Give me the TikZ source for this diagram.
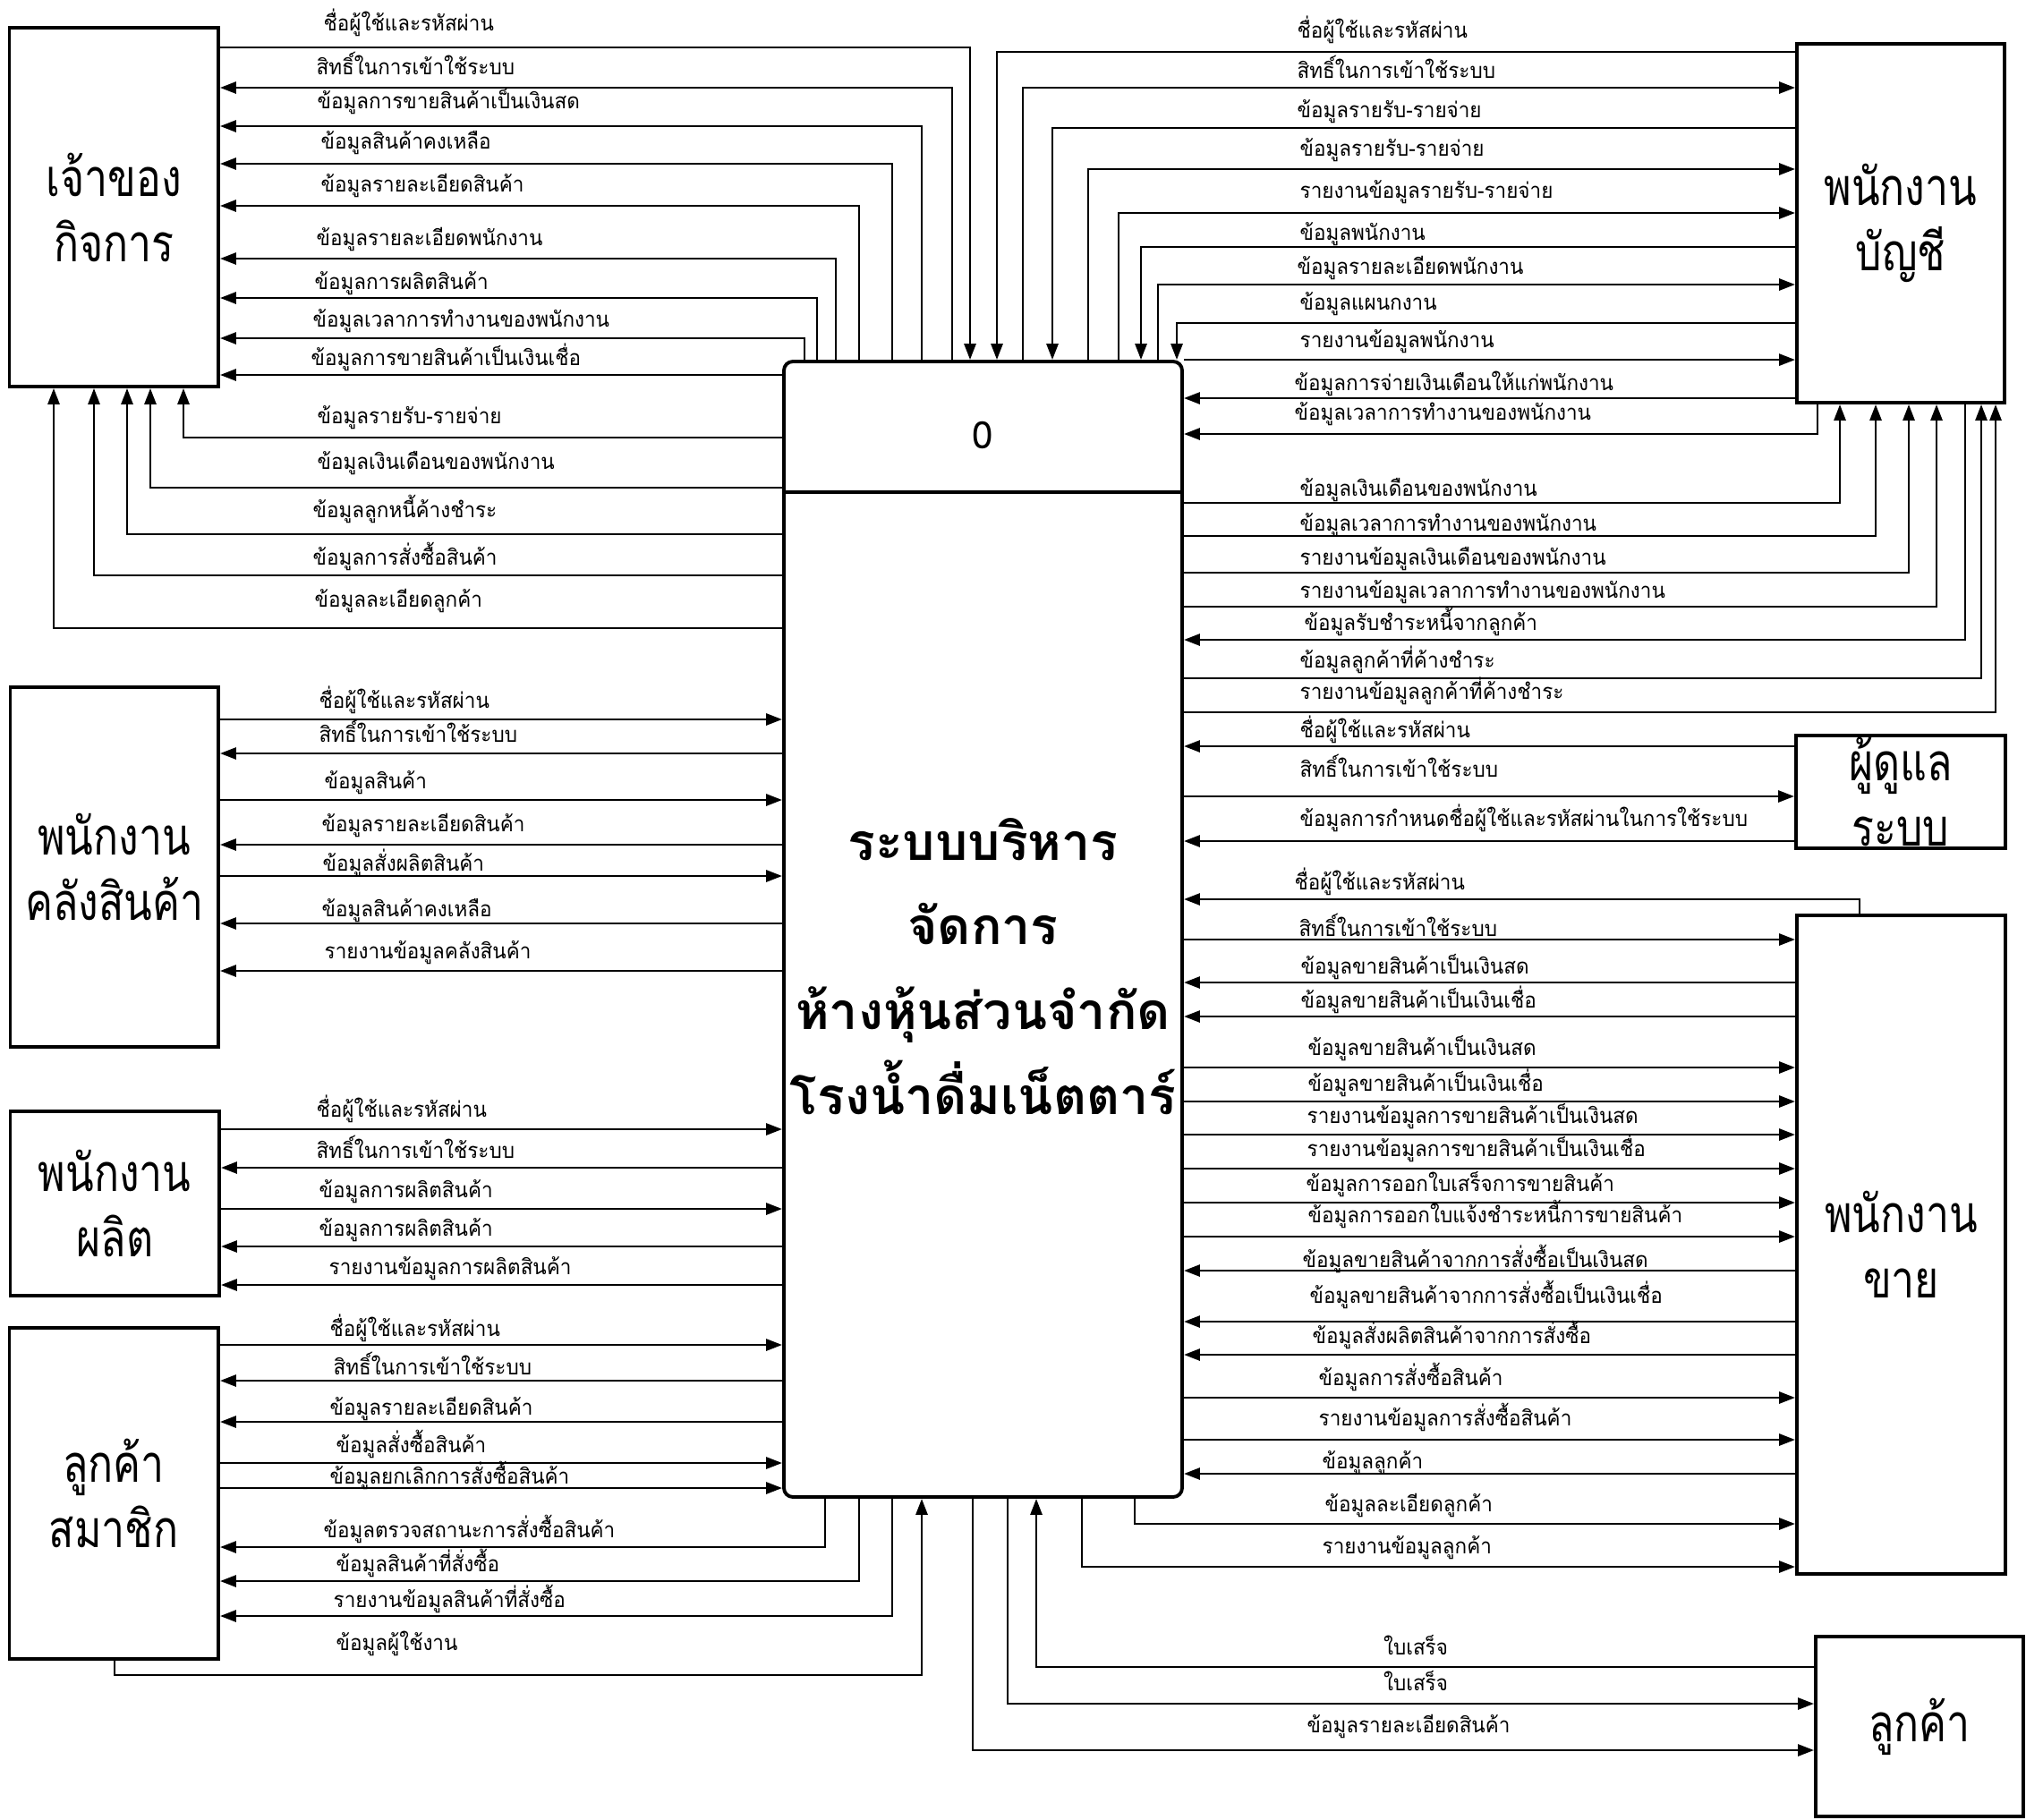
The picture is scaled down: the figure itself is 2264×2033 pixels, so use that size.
\documentclass[tikz,border=0pt]{standalone}
\usepackage{fontspec}
\setmainfont[Script=Thai]{Loma}
\newfontfamily\entfont[Script=Thai, FakeStretch=0.8]{Loma}
\newfontfamily\lblfont[Script=Thai, FakeStretch=0.94]{Loma}
\usetikzlibrary{arrows.meta}

\tikzset{
	>={Triangle[length=1.8mm, width=1.3mm]},
	flow/.style={line width=0.8pt},
	ent/.style={draw, line width=1.1pt, align=center, inner sep=0pt, font=\entfont\fontsize{16.5}{20.8}\selectfont},
	lbl/.style={anchor=base west, inner sep=0pt, font=\lblfont\fontsize{6.8}{8}\selectfont},
}

\begin{document}
\begin{tikzpicture}[x = 0.1mm, y = -0.1mm]
	%	page
	\useasboundingbox (0, 0) rectangle (2264, 2033);

	%	external entities
	\node[ent, minimum width = 23.35mm, minimum height = 40.1mm] (own) at (127.25, 231.5) {เจ้าของ\\กิจการ};
	\node[ent, minimum width = 23.25mm, minimum height = 40.2mm] (wh) at (127.75, 969) {พนักงาน\\คลังสินค้า};
	\node[ent, minimum width = 23.35mm, minimum height = 20.6mm] (prod) at (128.25, 1345) {พนักงาน\\ผลิต};
	\node[ent, minimum width = 23.35mm, minimum height = 37mm] (mem) at (127.25, 1669) {ลูกค้า\\สมาชิก};
	\node[ent, minimum width = 23.2mm, minimum height = 40.1mm] (acc) at (2124, 249.5) {พนักงาน\\บัญชี};
	\node[ent, minimum width = 23.4mm, minimum height = 12.6mm] (adm) at (2124, 885) {ผู้ดูแล\\ระบบ};
	\node[ent, minimum width = 23.3mm, minimum height = 73.6mm] (sal) at (2124.5, 1391) {พนักงาน\\ขาย};
	\node[ent, minimum width = 23.2mm, minimum height = 20.1mm] (cust) at (2145, 1929.5) {ลูกค้า};

	%	process
	\node[draw, line width = 1.1pt, rounded corners = 1mm, minimum width = 44.5mm, minimum height = 126.9mm] (proc) at (1098.5, 1038.5) {};
	\coordinate (div) at (0, 550);
	\draw[line width = 0.9pt] (proc.west |- div) -- (proc.east |- div);
	\node[font = \fontsize{12}{14}\selectfont] (pid) at (1098.5, 486) {0};
	\node[align = center, font = \bfseries\fontsize{16.3}{27}\selectfont] (ptitle) at (1098.5, 1080) {ระบบบริหาร\\จัดการ\\ห้างหุ้นส่วนจำกัด\\โรงน้ำดื่มเน็ตตาร์};

	%	owner, over the top
	\draw[flow, ->] (own.east |- 0, 53) -| (proc.north -| 1084, 0);
	\node[lbl] (own-a) at (361, 34) {ชื่อผู้ใช้และรหัสผ่าน};
	\foreach \x/\y/\lx/\ly/\t [count = \i] in {1064/98/353/77/สิทธิ์ในการเข้าใช้ระบบ, 1030/141/354/115/ข้อมูลการขายสินค้าเป็นเงินสด, 997/183/358/160/ข้อมูลสินค้าคงเหลือ, 960/230/358/208/ข้อมูลรายละเอียดสินค้า, 934/289/353/268/ข้อมูลรายละเอียดพนักงาน, 913/333/351/317/ข้อมูลการผลิตสินค้า, 899/378/349/359/ข้อมูลเวลาการทำงานของพนักงาน}{
		\draw[flow, ->] (proc.north -| \x, 0) |- (own.east |- 0, \y);
		\node[lbl] (own-b\i) at (\lx, \ly + 6) {\t};
	}
	\draw[flow, ->] (proc.west |- 0, 419) -- (own.east |- 0, 419);
	\node[lbl] (own-c) at (347, 408) {ข้อมูลการขายสินค้าเป็นเงินเชื่อ};

	%	owner, from below
	\foreach \x/\y/\lx/\ly/\t [count = \i] in {205/489/354/467/ข้อมูลรายรับ-รายจ่าย, 168/545/354/518/ข้อมูลเงินเดือนของพนักงาน, 142/597/349/572/ข้อมูลลูกหนี้ค้างชำระ, 105/643/349/625/ข้อมูลการสั่งซื้อสินค้า, 60/702/351/672/ข้อมูลละเอียดลูกค้า}{
		\draw[flow, ->] (proc.west |- 0, \y) -| (own.south -| \x, 0);
		\node[lbl] (own-d\i) at (\lx, \ly + 6) {\t};
	}

	%	warehouse, production, member
	\foreach \y/\s/\e/\lx/\ly/\t [count = \i] in {804/wh.east/proc.west/356/785/ชื่อผู้ใช้และรหัสผ่าน, 842/proc.west/wh.east/356/823/สิทธิ์ในการเข้าใช้ระบบ, 894/wh.east/proc.west/362/875/ข้อมูลสินค้า, 944/proc.west/wh.east/359/923/ข้อมูลรายละเอียดสินค้า, 979/wh.east/proc.west/360/967/ข้อมูลสั่งผลิตสินค้า, 1032/proc.west/wh.east/359/1018/ข้อมูลสินค้าคงเหลือ, 1085/proc.west/wh.east/362/1065/รายงานข้อมูลคลังสินค้า, 1262/prod.east/proc.west/353/1242/ชื่อผู้ใช้และรหัสผ่าน, 1305/proc.west/prod.east/353/1288/สิทธิ์ในการเข้าใช้ระบบ, 1351/prod.east/proc.west/356/1332/ข้อมูลการผลิตสินค้า, 1393/proc.west/prod.east/356/1375/ข้อมูลการผลิตสินค้า, 1436/proc.west/prod.east/367/1418/รายงานข้อมูลการผลิตสินค้า, 1503/mem.east/proc.west/368/1487/ชื่อผู้ใช้และรหัสผ่าน, 1543/proc.west/mem.east/372/1530/สิทธิ์ในการเข้าใช้ระบบ, 1589/proc.west/mem.east/368/1575/ข้อมูลรายละเอียดสินค้า, 1635/mem.east/proc.west/375/1617/ข้อมูลสั่งซื้อสินค้า, 1663/mem.east/proc.west/368/1652/ข้อมูลยกเลิกการสั่งซื้อสินค้า}{
		\draw[flow, ->] (\s |- 0, \y) -- (\e |- 0, \y);
		\node[lbl] (left-\i) at (\lx, \ly + 6) {\t};
	}
	\foreach \x/\y/\lx/\ly/\t [count = \i] in {922/1729/361/1712/ข้อมูลตรวจสถานะการสั่งซื้อสินค้า, 960/1767/375/1750/ข้อมูลสินค้าที่สั่งซื้อ, 997/1806/372/1790/รายงานข้อมูลสินค้าที่สั่งซื้อ}{
		\draw[flow, ->] (proc.south -| \x, 0) |- (mem.east |- 0, \y);
		\node[lbl] (mem-b\i) at (\lx, \ly + 6) {\t};
	}
	\coordinate (memk) at (1030, 1872);
	\draw[flow, ->] (mem.south -| 128, 0) |- (memk) -- (proc.south -| memk);
	\node[lbl] (mem-c) at (375, 1844) {ข้อมูลผู้ใช้งาน};

	%	accounting, over the top
	\foreach \x/\y/\lx/\ly/\t [count = \i] in {1114/58/1449/37/ชื่อผู้ใช้และรหัสผ่าน, 1176/143/1449/125/ข้อมูลรายรับ-รายจ่าย, 1275/276/1452/262/ข้อมูลพนักงาน, 1315/361/1452/340/ข้อมูลแผนกงาน}{
		\draw[flow, ->] (acc.west |- 0, \y) -| (proc.north -| \x, 0);
		\node[lbl] (acc-a\i) at (\lx, \ly + 6) {\t};
	}
	\foreach \x/\y/\lx/\ly/\t [count = \i] in {1143/98/1449/82/สิทธิ์ในการเข้าใช้ระบบ, 1216/189/1452/168/ข้อมูลรายรับ-รายจ่าย, 1250/238/1452/215/รายงานข้อมูลรายรับ-รายจ่าย, 1294/318/1449/300/ข้อมูลรายละเอียดพนักงาน}{
		\draw[flow, ->] (proc.north -| \x, 0) |- (acc.west |- 0, \y);
		\node[lbl] (acc-b\i) at (\lx, \ly + 6) {\t};
	}
	\draw[flow, ->] (proc.north east) -- (acc.west |- proc.north east);
	\node[lbl] (acc-c) at (1452, 388) {รายงานข้อมูลพนักงาน};
	\draw[flow, ->] (acc.west |- 0, 445) -- (proc.east |- 0, 445);
	\node[lbl] (acc-d) at (1446, 436) {ข้อมูลการจ่ายเงินเดือนให้แก่พนักงาน};
	\draw[flow, ->] (acc.south -| 2031, 0) |- (proc.east |- 0, 485);
	\node[lbl] (acc-e) at (1446, 469) {ข้อมูลเวลาการทำงานของพนักงาน};

	%	accounting, from below
	\foreach \x/\y/\lx/\ly/\t [count = \i] in {2056/562/1452/548/ข้อมูลเงินเดือนของพนักงาน, 2096/599/1452/587/ข้อมูลเวลาการทำงานของพนักงาน, 2133/640/1452/625/รายงานข้อมูลเงินเดือนของพนักงาน, 2164/678/1452/662/รายงานข้อมูลเวลาการทำงานของพนักงาน, 2214/758/1452/740/ข้อมูลลูกค้าที่ค้างชำระ, 2230/796/1452/775/รายงานข้อมูลลูกค้าที่ค้างชำระ}{
		\draw[flow, ->] (proc.east |- 0, \y) -| (acc.south -| \x, 0);
		\node[lbl] (acc-f\i) at (\lx, \ly + 6) {\t};
	}
	\draw[flow, ->] (acc.south -| 2196, 0) |- (proc.east |- 0, 715);
	\node[lbl] (acc-g) at (1457, 704) {ข้อมูลรับชำระหนี้จากลูกค้า};

	%	admin
	\draw[flow, ->] (adm.west |- 0, 834) -- (proc.east |- 0, 834);
	\node[lbl] (adm-a) at (1452, 824) {ชื่อผู้ใช้และรหัสผ่าน};
	\draw[flow, ->] (proc.east |- 0, 890) -- (adm.west |- 0, 890);
	\node[lbl] (adm-b) at (1452, 868) {สิทธิ์ในการเข้าใช้ระบบ};
	\draw[flow, ->] (adm.west |- 0, 940) -- (proc.east |- 0, 940);
	\node[lbl] (adm-c) at (1452, 923) {ข้อมูลการกำหนดชื่อผู้ใช้และรหัสผ่านในการใช้ระบบ};

	%	sales
	\draw[flow, ->] (sal.north -| 2078, 0) |- (proc.east |- 0, 1005);
	\node[lbl] (sal-a) at (1446, 994) {ชื่อผู้ใช้และรหัสผ่าน};
	\foreach \y/\s/\e/\lx/\ly/\t [count = \i] in {1050/proc.east/sal.west/1451/1040/สิทธิ์ในการเข้าใช้ระบบ, 1098/sal.west/proc.east/1453/1082/ข้อมูลขายสินค้าเป็นเงินสด, 1136/sal.west/proc.east/1453/1120/ข้อมูลขายสินค้าเป็นเงินเชื่อ, 1193/proc.east/sal.west/1461/1173/ข้อมูลขายสินค้าเป็นเงินสด, 1231/proc.east/sal.west/1461/1213/ข้อมูลขายสินค้าเป็นเงินเชื่อ, 1268/proc.east/sal.west/1460/1249/รายงานข้อมูลการขายสินค้าเป็นเงินสด, 1306/proc.east/sal.west/1460/1286/รายงานข้อมูลการขายสินค้าเป็นเงินเชื่อ, 1344/proc.east/sal.west/1459/1325/ข้อมูลการออกใบเสร็จการขายสินค้า, 1382/proc.east/sal.west/1461/1360/ข้อมูลการออกใบแจ้งชำระหนี้การขายสินค้า, 1420/sal.west/proc.east/1455/1410/ข้อมูลขายสินค้าจากการสั่งซื้อเป็นเงินสด, 1477/sal.west/proc.east/1463/1450/ข้อมูลขายสินค้าจากการสั่งซื้อเป็นเงินเชื่อ, 1514/sal.west/proc.east/1466/1495/ข้อมูลสั่งผลิตสินค้าจากการสั่งซื้อ, 1562/proc.east/sal.west/1473/1542/ข้อมูลการสั่งซื้อสินค้า, 1609/proc.east/sal.west/1473/1587/รายงานข้อมูลการสั่งซื้อสินค้า, 1647/sal.west/proc.east/1477/1635/ข้อมูลลูกค้า}{
		\draw[flow, ->] (\s |- 0, \y) -- (\e |- 0, \y);
		\node[lbl] (sal-b\i) at (\lx, \ly + 6) {\t};
	}
	\draw[flow, ->] (proc.south -| 1268, 0) |- (sal.west |- 0, 1703);
	\node[lbl] (sal-c) at (1480, 1689) {ข้อมูลละเอียดลูกค้า};
	\draw[flow, ->] (proc.south -| 1209, 0) |- (sal.west |- 0, 1751);
	\node[lbl] (sal-d) at (1477, 1736) {รายงานข้อมูลลูกค้า};

	%	customer
	\draw[flow, ->] (cust.west |- 0, 1863) -| (proc.south -| 1158, 0);
	\node[lbl, anchor = base] (cust-a) at (1582, 1849) {ใบเสร็จ};
	\draw[flow, ->] (proc.south -| 1126, 0) |- (cust.west |- 0, 1904);
	\node[lbl, anchor = base] (cust-b) at (1582, 1889) {ใบเสร็จ};
	\draw[flow, ->] (proc.south -| 1087, 0) |- (cust.west |- 0, 1956);
	\node[lbl] (cust-c) at (1460, 1936) {ข้อมูลรายละเอียดสินค้า};
\end{tikzpicture}
\end{document}
